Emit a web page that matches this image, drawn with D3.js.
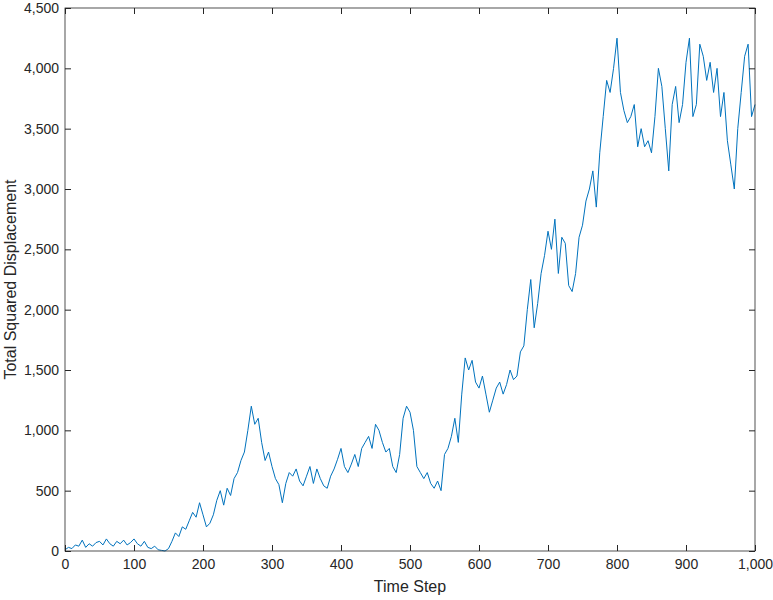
<!DOCTYPE html><html><head><script src="https://cdn.jsdelivr.net/npm/d3@7"></script>
<style>body{margin:0;background:#fff}</style></head><body><svg id="c" width="773" height="600"></svg><script>
const steps=[0,5,10,15,20,25,30,35,40,45,50,55,60,65,70,75,80,85,90,95,100,105,110,115,120,125,130,135,140,145,150,155,160,165,170,175,180,185,190,195,200,205,210,215,220,225,230,235,240,245,250,255,260,265,270,275,280,285,290,295,300,305,310,315,320,325,330,335,340,345,350,355,360,365,370,375,380,385,390,395,400,405,410,415,420,425,430,435,440,445,450,455,460,465,470,475,480,485,490,495,500,505,510,515,520,525,530,535,540,545,550,555,560,565,570,575,580,585,590,595,600,605,610,615,620,625,630,635,640,645,650,655,660,665,670,675,680,685,690,695,700,705,710,715,720,725,730,735,740,745,750,755,760,765,770,775,780,785,790,795,800,805,810,815,820,825,830,835,840,845,850,855,860,865,870,875,880,885,890,895,900,905,910,915,920,925,930,935,940,945,950,955,960,965,970,975,980,985,990,995,1000];
const displacement=[10,30,20,50,40,90,30,60,40,70,80,50,100,60,40,80,60,90,50,70,100,60,40,80,30,20,40,10,5,0,20,80,150,120,200,180,250,320,280,400,300,200,230,300,420,500,380,520,460,600,650,750,820,1000,1200,1050,1100,900,750,820,700,600,550,400,560,650,620,680,580,540,620,700,560,680,600,540,520,620,680,760,850,700,650,720,800,700,850,900,950,850,1050,1000,900,820,850,700,650,800,1100,1200,1150,1000,700,650,600,650,560,520,580,500,800,850,950,1100,900,1300,1600,1500,1580,1400,1350,1450,1300,1150,1250,1350,1400,1300,1380,1500,1420,1450,1650,1700,2000,2250,1850,2050,2300,2450,2650,2500,2750,2300,2600,2550,2200,2150,2300,2600,2700,2900,3000,3150,2850,3300,3600,3900,3800,4000,4250,3800,3650,3550,3600,3700,3350,3500,3350,3400,3300,3600,4000,3850,3500,3150,3700,3850,3550,3700,4050,4250,3600,3700,4200,4100,3900,4050,3800,4000,3600,3800,3400,3200,3000,3500,3800,4100,4200,3600,3700];
const xTicks=d3.range(0,1001,100), yTicks=d3.range(0,4501,500);
const svg=d3.select("#c"),L=65,R=755,T=8,B=551;
const x=d3.scaleLinear().domain([0,1000]).range([L,R]);
const y=d3.scaleLinear().domain([0,4500]).range([B,T]);
const f="Helvetica, Arial, 'Liberation Sans', sans-serif";
svg.append("path").datum(steps.map((s,i)=>[s,displacement[i]])).attr("fill","none").attr("stroke","#0072BD").attr("stroke-width",1)
 .attr("d",d3.line().x(d=>x(d[0])).y(d=>y(d[1])));
svg.append("rect").attr("x",L).attr("y",T).attr("width",R-L).attr("height",B-T).attr("fill","none").attr("stroke","#262626").attr("stroke-width",0.8);
const ax=svg.append("g").attr("transform",`translate(0,${B})`).call(d3.axisBottom(x).tickValues(xTicks).tickSize(-6).tickPadding(8));
const ay=svg.append("g").attr("transform",`translate(${L},0)`).call(d3.axisLeft(y).tickValues(yTicks).tickSize(-6).tickPadding(6));
svg.append("g").attr("transform",`translate(0,${T})`).call(d3.axisTop(x).tickValues(xTicks).tickSize(-6).tickFormat(""));
svg.append("g").attr("transform",`translate(${R},0)`).call(d3.axisRight(y).tickValues(yTicks).tickSize(-6).tickFormat(""));
svg.selectAll(".domain").remove();
svg.selectAll(".tick line").attr("stroke","#262626");
svg.selectAll(".tick text").attr("font-family",f).attr("font-size",14).attr("fill","#262626");
svg.append("text").attr("x",(L+R)/2).attr("y",592).attr("text-anchor","middle").attr("font-family",f).attr("font-size",16).attr("fill","#262626").text("Time Step");
svg.append("text").attr("transform",`translate(16,${(T+B)/2}) rotate(-90)`).attr("text-anchor","middle").attr("font-family",f).attr("font-size",16).attr("fill","#262626").text("Total Squared Displacement");
</script></body></html>
